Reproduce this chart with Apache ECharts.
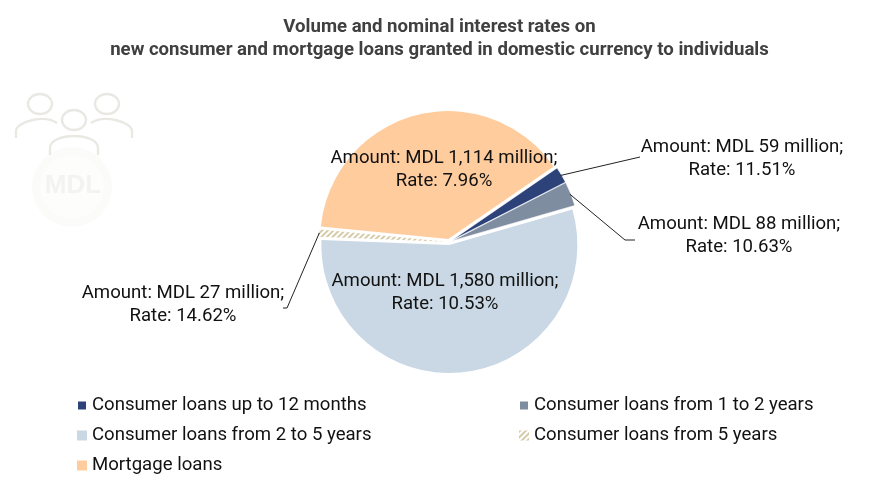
<!DOCTYPE html>
<html><head><meta charset="utf-8">
<style>html,body{margin:0;padding:0;background:#fff}#c{width:879px;height:482px}</style>
<script src="https://cdn.jsdelivr.net/npm/echarts@6/dist/echarts.min.js"></script>
</head><body><div id="c"></div>
<script>
const categories = ['Consumer loans up to 12 months','Consumer loans from 1 to 2 years','Consumer loans from 2 to 5 years','Consumer loans from 5 years','Mortgage loans'];
const amounts = [59,88,1580,27,1114];
const amountLabels = ['59','88','1,580','27','1,114'];
const rates = ['11.51','10.63','10.53','14.62','7.96'];
const colors = ['#2C4279','#7F8DA0','#C9D8E4','#FFFFFF','#FFCC9E'];
const titleLines = ['Volume and nominal interest rates on','new consumer and mortgage loans granted in domestic currency to individuals'];
const labelAnchors = [[742,159,'outside'],[739,236,'outside'],[445,293,'inside'],[183,305,'outside'],[444,170,'inside']];
const leaderEnds = [[[640,157],[640,157]],[[625,240],[635,240]],null,[[287,308],[283,308]],null];

const font = 'Roboto';
const hatch = {color:'#D6CBA8',symbol:'rect',dashArrayX:[1,0],dashArrayY:[1.5,1.5],rotation:-Math.PI/4,symbolSize:1};
const sliceData = categories.map((name,i)=>{
  const itemStyle={color:colors[i],borderColor:'#fff',borderWidth:i<2?0.6:0};
  if(i===3) itemStyle.decal=hatch;
  return {name,value:amounts[i],itemStyle,selected:true};
});
const labelData = categories.map((name,i)=>({
  name,value:amounts[i],
  label:{position:labelAnchors[i][2]},
  labelLine:{show:labelAnchors[i][2]==='outside'}
}));
const ink={fill:'none',stroke:'#E9E8E3',lineWidth:2.4};
const ring=(cx,cy,rx,ry)=>({type:'ellipse',shape:{cx,cy,rx,ry},style:ink,silent:true});
const curve=(x1,y1,cx1,cy1,cx2,cy2,x2,y2)=>({type:'bezierCurve',shape:{x1,y1,cpx1:cx1,cpy1:cy1,cpx2:cx2,cpy2:cy2,x2,y2},style:ink,silent:true});
const seg=(x1,y1,x2,y2)=>({type:'line',shape:{x1,y1,x2,y2},style:ink,silent:true});
const legendBase={orient:'vertical',icon:'rect',itemWidth:10,itemHeight:10,itemGap:11,padding:0,textStyle:{fontFamily:font,fontSize:18.6,lineHeight:18,color:'#111',padding:[0,0,0,0]},selectedMode:false};
const chart=echarts.init(document.getElementById('c'),null,{renderer:'canvas'});
chart.setOption({
  animation:false,
  title:{text:titleLines.join('\n'),left:'center',top:16,padding:[0,0,0,4],itemGap:0,
    textStyle:{fontFamily:font,fontSize:18.6,fontWeight:'bold',color:'#404040',lineHeight:23}},
  legend:[
    Object.assign({},legendBase,{left:76,top:396,data:categories.filter((c,i)=>i%2===0)}),
    Object.assign({},legendBase,{left:518,top:396,data:categories.filter((c,i)=>i%2===1)})
  ],
  graphic:{elements:[
    {type:'circle',shape:{cx:72,cy:187,r:40},style:{fill:'#FBFBFA'},silent:true},
    {type:'circle',shape:{cx:72,cy:187,r:32},style:{fill:'#FDFDFC'},silent:true},
    {type:'text',style:{text:'MDL',x:73,y:186,align:'center',verticalAlign:'middle',fontFamily:'Liberation Sans',fontWeight:'bold',fontSize:26,fill:'#F3F3F1'},silent:true},
    ring(40,104,12,10),ring(107,104,12,10),ring(74,120,12,10),
    seg(16,138,16,131),curve(16,131,16,122,44,114,57,123),
    seg(132,138,132,131),curve(132,131,132,122,104,114,91,123),
    seg(50,155,50,148),curve(50,148,50,132,98,132,98,148),seg(98,148,98,155)
  ]},
  series:[{
    type:'pie',center:[449,242],radius:[0,128],startAngle:34.5,clockwise:true,
    selectedMode:'multiple',selectedOffset:3,
    select:{itemStyle:{borderColor:'#fff'}},
    label:{show:false},labelLine:{show:false},
    data:sliceData
  },{
    type:'pie',center:[449,242],radius:[0,130],startAngle:34.5,clockwise:true,z:3,silent:true,
    itemStyle:{color:'rgba(0,0,0,0)'},
    data:labelData,
    label:{
      fontFamily:font,fontSize:18.6,color:'#111',lineHeight:23,align:'center',
      formatter:p=>`Amount: MDL ${amountLabels[p.dataIndex]} million;\nRate: ${rates[p.dataIndex]}%`
    },
    labelLine:{show:true,length:20,length2:10,lineStyle:{color:'#222',width:1}},
    labelLayout:p=>{
      const a=labelAnchors[p.dataIndex], e=leaderEnds[p.dataIndex];
      const out={x:a[0],y:a[1],align:'center',verticalAlign:'middle',hideOverlap:false};
      if(e&&p.labelLinePoints){const pts=p.labelLinePoints;pts[1]=e[0];pts[2]=e[1];out.labelLinePoints=pts;}
      return out;
    }
  }]
});
</script></body></html>
